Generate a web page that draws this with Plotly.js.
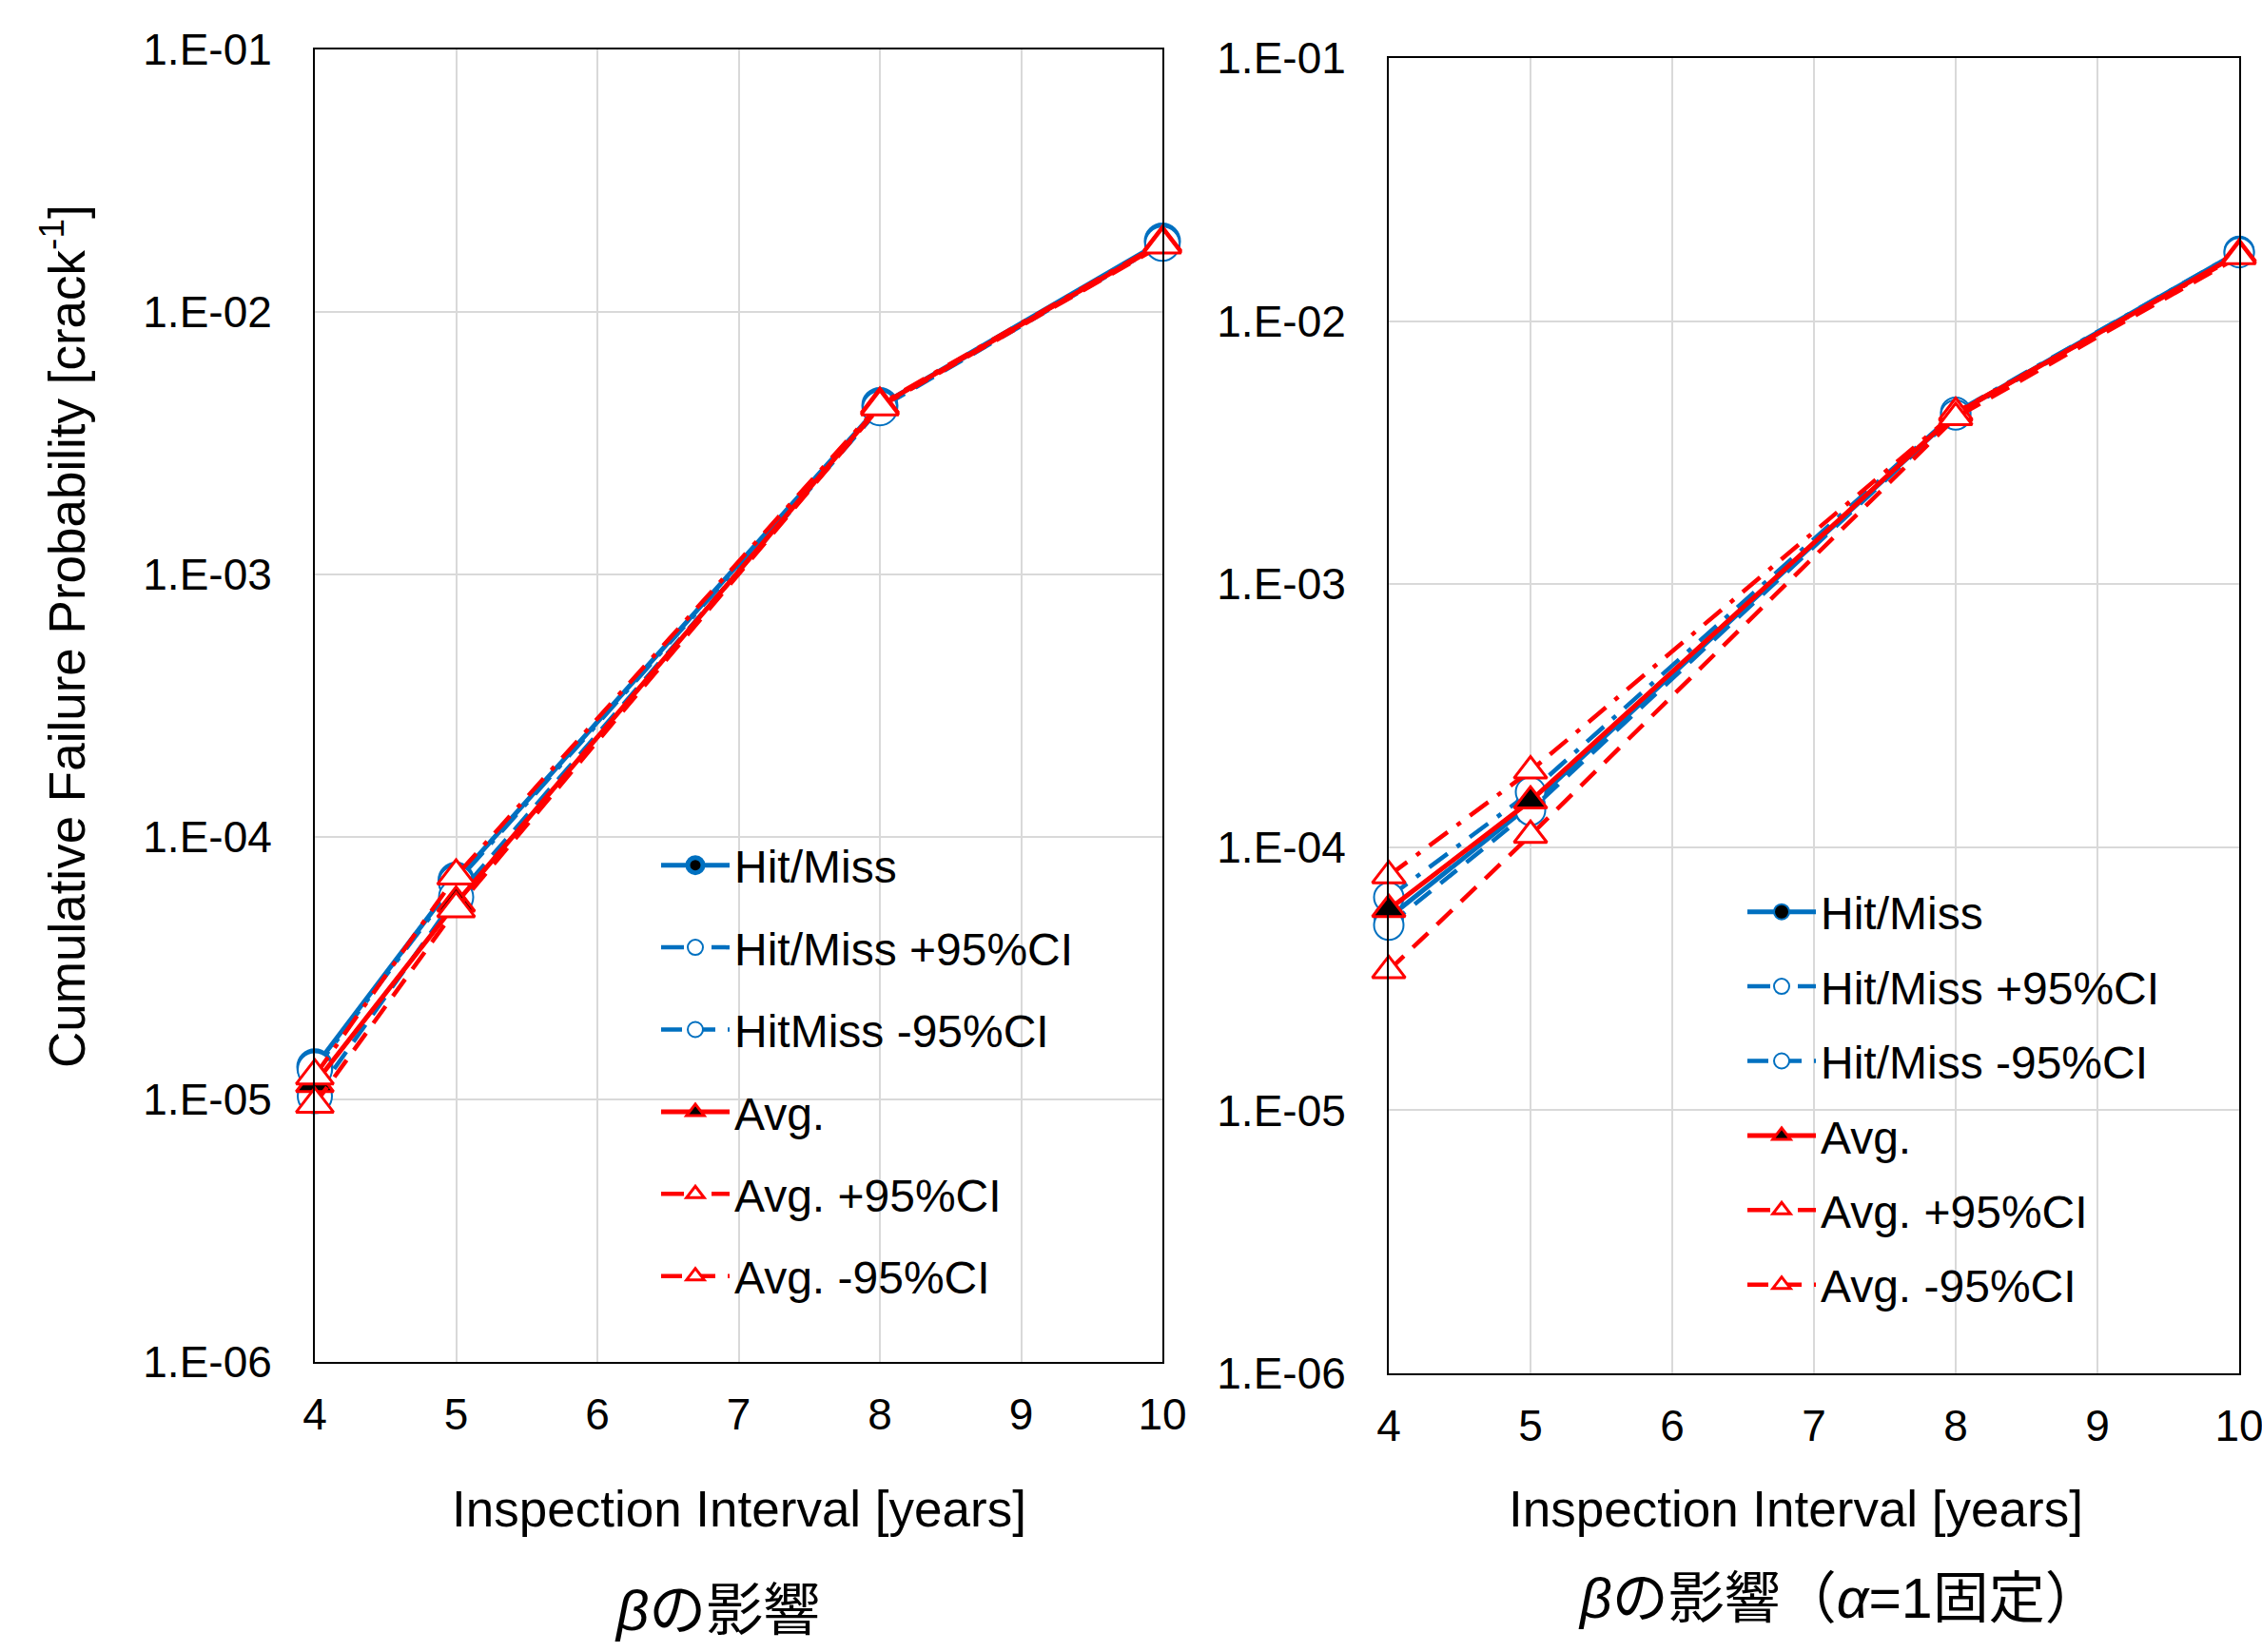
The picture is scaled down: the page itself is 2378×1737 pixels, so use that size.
<!DOCTYPE html>
<html><head><meta charset="utf-8">
<script src="https://cdn.plot.ly/plotly-3.0.1.min.js"></script>
<style>html,body{margin:0;padding:0;background:#fff}#chart{width:2378px;height:1737px}</style>
</head><body><div id="chart"></div>
<script>
// ---- data ----
const intervals = [4, 5, 8, 10];
const namesLeft  = ['Hit/Miss', 'Hit/Miss +95%CI', 'HitMiss -95%CI', 'Avg.', 'Avg. +95%CI', 'Avg. -95%CI'];
const namesRight = ['Hit/Miss', 'Hit/Miss +95%CI', 'Hit/Miss -95%CI', 'Avg.', 'Avg. +95%CI', 'Avg. -95%CI'];

const leftHitMiss   = [1.33e-5, 6.84e-5, 4.40e-3, 1.86e-2];
const leftHitMissUp = [1.30e-5, 6.70e-5, 4.35e-3, 1.84e-2];
const leftHitMissLo = [1.03e-5, 5.90e-5, 4.30e-3, 1.82e-2];
const leftAvg       = [1.15e-5, 5.60e-5, 4.40e-3, 1.82e-2];
const leftAvgUp     = [1.23e-5, 7.10e-5, 4.45e-3, 1.84e-2];
const leftAvgLo     = [9.6e-6,  5.33e-5, 4.35e-3, 1.80e-2];

const rightHitMiss   = [5.4e-5,  1.45e-4, 4.45e-3, 1.84e-2];
const rightHitMissUp = [6.45e-5, 1.62e-4, 4.50e-3, 1.84e-2];
const rightHitMissLo = [5.05e-5, 1.38e-4, 4.40e-3, 1.82e-2];
const rightAvg       = [5.8e-5,  1.50e-4, 4.45e-3, 1.80e-2];
const rightAvgUp     = [7.8e-5,  1.95e-4, 4.50e-3, 1.78e-2];
const rightAvgLo     = [3.4e-5,  1.11e-4, 4.30e-3, 1.76e-2];

const yTickVals = [1e-6, 1e-5, 1e-4, 1e-3, 1e-2, 1e-1];
const yTickText = ['1.E-06', '1.E-05', '1.E-04', '1.E-03', '1.E-02', '1.E-01'];
const xTickVals = [4, 5, 6, 7, 8, 9, 10];
const xTitle = 'Inspection Interval [years]';
const yTitle = 'Cumulative Failure Probability [crack<sup>-1</sup>]';
const captionLeft = '<i>β</i>の影響';
const captionRight = '<i>β</i>の影響（<i>α</i>=1固定）';

// ---- styles ----
const BLUE = '#0070C0', RED = '#FF0000';
const DASHDOT = '24px,12px,5px,12px';
const DASH = '22px,13px';
function styleFor(i, side) {
  const big = side === 'L';
  const base = [
    {c: BLUE, dash: 'solid', lw: 5,   sym: 'circle',      fill: '#000', mc: BLUE, mlw: big ? 5 : 2, ms: big ? 34 : 30},
    {c: BLUE, dash: DASHDOT, lw: 4.5, sym: 'circle',      fill: '#fff', mc: BLUE, mlw: 2, ms: big ? 36 : 31},
    {c: BLUE, dash: DASH,    lw: 4.5, sym: 'circle',      fill: '#fff', mc: BLUE, mlw: 2, ms: big ? 36 : 31},
    {c: RED,  dash: 'solid', lw: 5,   sym: 'triangle-up', fill: '#000', mc: RED,  mlw: 3, ms: big ? 34 : 30},
    {c: RED,  dash: DASHDOT, lw: 4.5, sym: 'triangle-up', fill: '#fff', mc: RED,  mlw: 3, ms: big ? 34 : 30},
    {c: RED,  dash: DASH,    lw: 4.5, sym: 'triangle-up', fill: '#fff', mc: RED,  mlw: 3, ms: big ? 34 : 30}
  ];
  return base[i];
}

const leftSeries  = [leftHitMiss, leftHitMissUp, leftHitMissLo, leftAvg, leftAvgUp, leftAvgLo];
const rightSeries = [rightHitMiss, rightHitMissUp, rightHitMissLo, rightAvg, rightAvgUp, rightAvgLo];

const traces = [];
function addSide(series, names, side) {
  series.forEach((ys, i) => {
    const s = styleFor(i, side);
    traces.push({
      type: 'scatter', mode: 'lines+markers',
      x: intervals, y: ys, name: names[i],
      xaxis: side === 'L' ? 'x' : 'x2', yaxis: side === 'L' ? 'y' : 'y2',
      legend: side === 'L' ? 'legend' : 'legend2',
      legendgroup: side + i,
      line: {color: s.c, width: s.lw, dash: s.dash},
      marker: {symbol: s.sym, size: s.ms, color: s.fill, line: {color: s.mc, width: s.mlw}},
      cliponaxis: false
    });
  });
}
addSide(leftSeries, namesLeft, 'L');
addSide(rightSeries, namesRight, 'R');

const W = 2378, H = 1737;
const px = v => v / W, py = v => 1 - v / H;

function xAxis(dom, anchor) {
  return {domain: dom, anchor: anchor, range: [4, 10], tickvals: xTickVals, ticks: '',
    showgrid: true, gridcolor: '#D9D9D9', gridwidth: 2, zeroline: false,
    showline: true, linecolor: '#000', linewidth: 2, mirror: true,
    tickfont: {size: 46, color: '#000'}, ticklabelstandoff: 14, ticklabeloverflow: 'allow', fixedrange: true};
}
function yAxis(dom, anchor) {
  return {domain: dom, anchor: anchor, type: 'log', range: [-6, -1], tickvals: yTickVals, ticktext: yTickText, ticks: '',
    showgrid: true, gridcolor: '#D9D9D9', gridwidth: 2, zeroline: false,
    showline: true, linecolor: '#000', linewidth: 2, mirror: true,
    tickfont: {size: 46, color: '#000'}, ticklabelstandoff: 34, ticklabeloverflow: 'allow', fixedrange: true};
}

const legendBase = {xanchor: 'left', yanchor: 'top', bgcolor: 'rgba(0,0,0,0)', borderwidth: 0,
  font: {size: 48, color: '#000', family: 'Liberation Sans, Arial, sans-serif'},
  itemwidth: 72, traceorder: 'grouped', itemsizing: 'trace'};

const layout = {
  width: W, height: H, margin: {l: 0, r: 0, t: 0, b: 0},
  paper_bgcolor: '#fff', plot_bgcolor: '#fff',
  font: {family: 'Liberation Sans, Arial, sans-serif', color: '#000'},
  showlegend: true,
  xaxis:  xAxis([px(331), px(1222)], 'y'),
  yaxis:  yAxis([py(1432), py(52)], 'x'),
  xaxis2: xAxis([px(1460), px(2354)], 'y2'),
  yaxis2: yAxis([py(1444), py(61)], 'x2'),
  legend:  Object.assign({}, legendBase, {x: px(690), y: py(872), tracegroupgap: 21}),
  legend2: Object.assign({}, legendBase, {x: px(1832), y: py(921), tracegroupgap: 13}),
  annotations: [
    {text: xTitle, xref: 'paper', yref: 'paper', x: px(777), y: py(1586), showarrow: false, font: {size: 53}, xanchor: 'center', yanchor: 'middle'},
    {text: xTitle, xref: 'paper', yref: 'paper', x: px(1888), y: py(1586), showarrow: false, font: {size: 53}, xanchor: 'center', yanchor: 'middle'},
    {text: yTitle, xref: 'paper', yref: 'paper', x: px(66), y: py(669), showarrow: false, font: {size: 53}, textangle: -90, xanchor: 'center', yanchor: 'middle'},
    {text: captionLeft, xref: 'paper', yref: 'paper', x: px(754), y: py(1693), showarrow: false, font: {size: 60, family: 'Liberation Sans, Noto Sans CJK JP, sans-serif'}, xanchor: 'center', yanchor: 'middle'},
    {text: captionRight, xref: 'paper', yref: 'paper', x: px(1934), y: py(1681), showarrow: false, font: {size: 59, family: 'Liberation Sans, Noto Sans CJK JP, sans-serif'}, xanchor: 'center', yanchor: 'middle'}
  ]
};

Plotly.newPlot('chart', traces, layout, {staticPlot: true, displayModeBar: false});
</script></body></html>
